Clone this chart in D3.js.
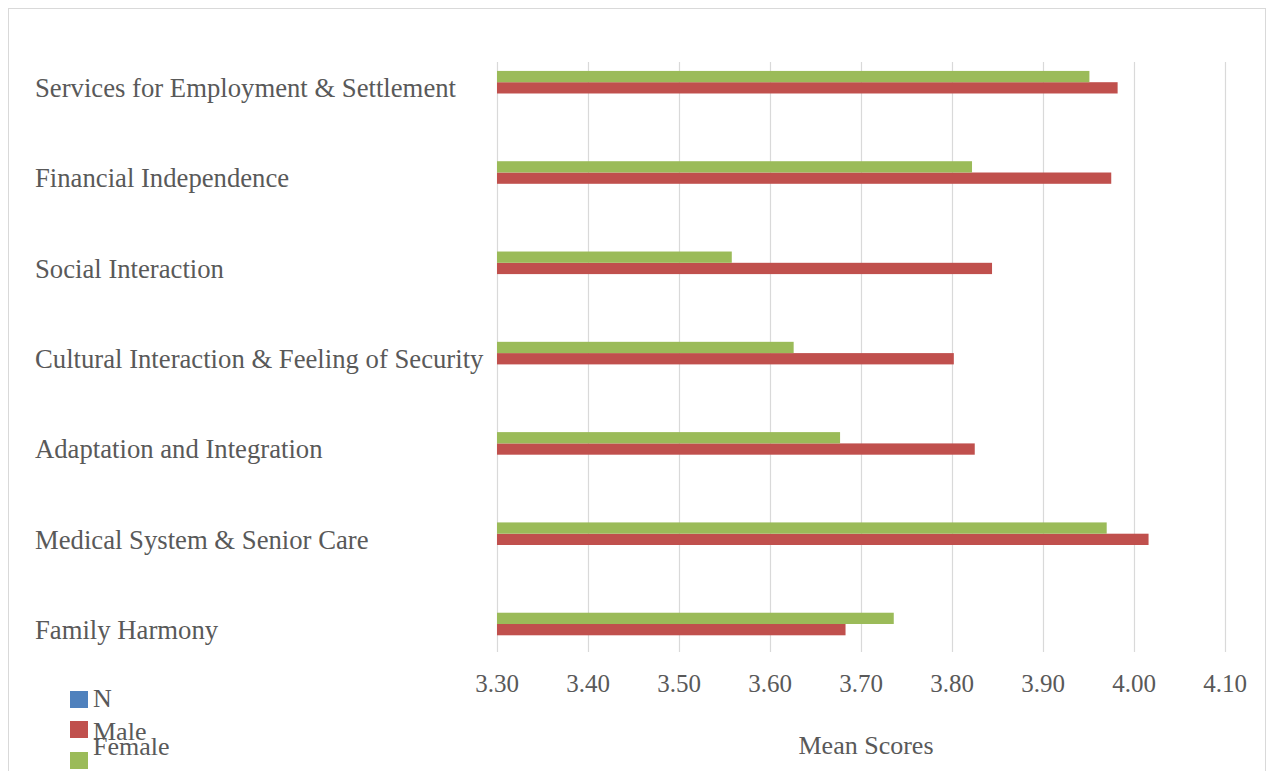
<!DOCTYPE html>
<html>
<head>
<meta charset="utf-8">
<script src="https://cdn.jsdelivr.net/npm/d3@7"></script>
<style>
  html, body { margin: 0; padding: 0; background: #ffffff; }
  svg { display: block; }
  text { font-family: "Liberation Serif", "Times New Roman", serif; fill: #595959; }
</style>
</head>
<body>
<svg id="chart" width="1271" height="771"></svg>
<script>
// Mean scores by domain, split by gender
const categories = [
  "Services for Employment & Settlement",
  "Financial Independence",
  "Social Interaction",
  "Cultural Interaction & Feeling of Security",
  "Adaptation and Integration",
  "Medical System & Senior Care",
  "Family Harmony"
];
const seriesNames = ["N", "Male", "Female"];
const nValues      = [null, null, null, null, null, null, null];
const maleValues   = [3.982, 3.975, 3.844, 3.802, 3.825, 4.016, 3.683];
const femaleValues = [3.951, 3.822, 3.558, 3.626, 3.677, 3.970, 3.736];
const tickValues   = [3.30, 3.40, 3.50, 3.60, 3.70, 3.80, 3.90, 4.00, 4.10];
const axisTitle    = "Mean Scores";

const colors = { N: "#4F81BD", Male: "#C0504D", Female: "#9BBB59" };

const svg = d3.select("#chart");

// outer chart-area border
svg.append("rect")
  .attr("x", 8.5).attr("y", 8.5)
  .attr("width", 1257).attr("height", 780)
  .attr("fill", "none").attr("stroke", "#d9d9d9");

const x = d3.scaleLinear().domain([3.30, 4.10]).range([497, 1225]);

const y = d3.scaleBand().domain(categories).range([42.7, 674.8]).paddingInner(0).paddingOuter(0);

// series within a category: Female on top, Male in the middle, N at the bottom
const ySub = d3.scaleBand().domain(["Female", "Male", "N"])
  .range([0, y.bandwidth()]).paddingInner(0).paddingOuter(2.5);

const gridTop = 62, gridBottom = 652;

// vertical gridlines (the first one doubles as the category axis line)
svg.append("g").selectAll("line")
  .data(tickValues)
  .join("line")
  .attr("x1", d => Math.round(x(d)) + 0.5)
  .attr("x2", d => Math.round(x(d)) + 0.5)
  .attr("y1", gridTop).attr("y2", gridBottom)
  .attr("stroke", "#d9d9d9").attr("stroke-width", 1.2);

const rows = categories.map((c, i) => ({
  category: c,
  N: nValues[i], Male: maleValues[i], Female: femaleValues[i]
}));

const bars = [];
rows.forEach(r => {
  seriesNames.forEach(s => {
    if (r[s] != null) bars.push({ category: r.category, series: s, value: r[s] });
  });
});

svg.append("g").selectAll("rect")
  .data(bars)
  .join("rect")
  .attr("x", x(3.30))
  .attr("y", d => y(d.category) + ySub(d.series))
  .attr("width", d => x(d.value) - x(3.30))
  .attr("height", ySub.bandwidth())
  .attr("fill", d => colors[d.series]);

// category labels
svg.append("g").selectAll("text")
  .data(categories)
  .join("text")
  .attr("x", 35)
  .attr("y", d => y(d) + y.bandwidth() / 2)
  .attr("dy", "0.35em")
  .style("font-size", "26.7px")
  .text(d => d);

// value axis tick labels
svg.append("g").selectAll("text")
  .data(tickValues)
  .join("text")
  .attr("x", d => x(d))
  .attr("y", 692)
  .attr("text-anchor", "middle")
  .style("font-size", "25px")
  .text(d => d3.format(".2f")(d));

// axis title
svg.append("text")
  .attr("x", 866).attr("y", 754)
  .attr("text-anchor", "middle")
  .style("font-size", "26px")
  .text(axisTitle);

// legend
const legendItems = [
  { name: "N",      keyY: 691, textY: 707 },
  { name: "Male",   keyY: 721, textY: 740 },
  { name: "Female", keyY: 752, textY: 755 }
];
const legend = svg.append("g");
legend.selectAll("rect")
  .data(legendItems)
  .join("rect")
  .attr("x", 70).attr("y", d => d.keyY)
  .attr("width", 18).attr("height", 17)
  .attr("fill", d => colors[d.name]);
legend.selectAll("text")
  .data(legendItems)
  .join("text")
  .attr("x", 93).attr("y", d => d.textY)
  .style("font-size", "26px")
  .text(d => d.name);
</script>
</body>
</html>
